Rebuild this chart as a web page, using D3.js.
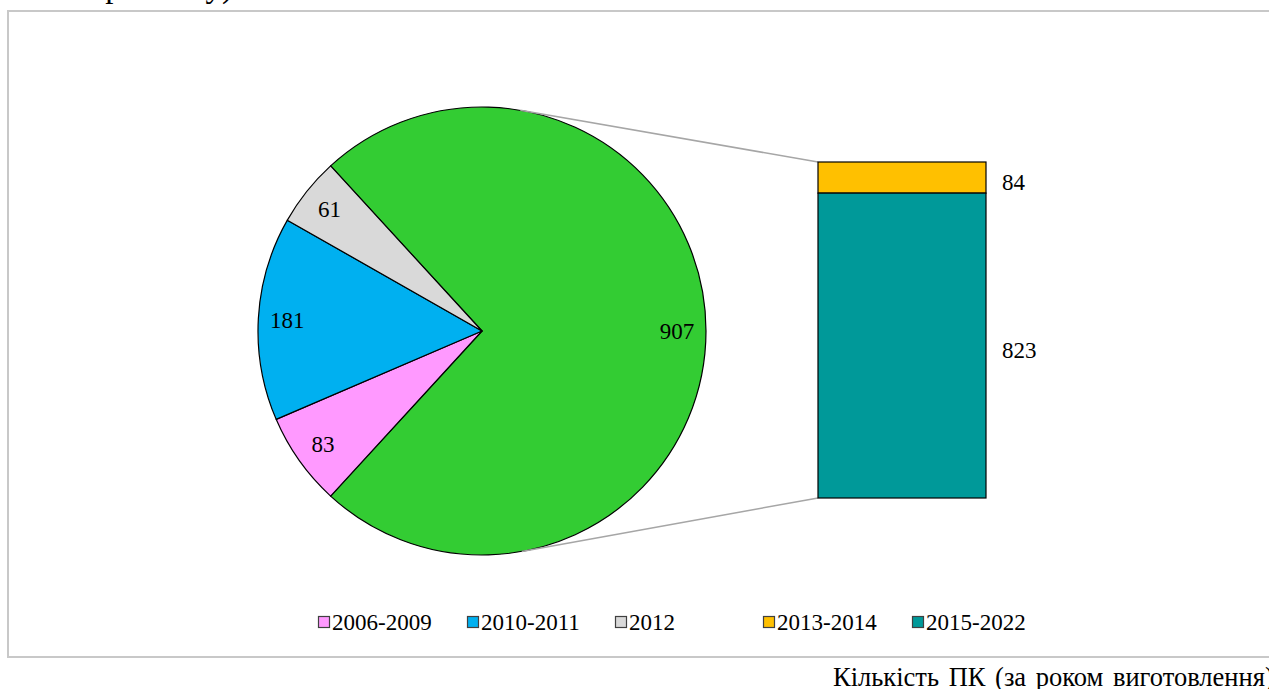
<!DOCTYPE html>
<html>
<head>
<meta charset="utf-8">
<script src="https://cdn.jsdelivr.net/npm/d3@7"></script>
<style>
  html, body { margin: 0; padding: 0; background: #fff; overflow: hidden; }
</style>
</head>
<body>
<svg id="chart" width="1269" height="689"></svg>
<script>
// Number of PCs by year of manufacture
const categories = ["2006-2009", "2010-2011", "2012", "2013-2014", "2015-2022"];
const counts = [83, 181, 61, 84, 823];
const colors = ["#FF99FF", "#00B0F0", "#D9D9D9", "#FFC000", "#009999"];
const otherColor = "#33CC33";
// the last two groups are combined in the pie and broken out in the bar
const pieCount = 3;

const serif = "Liberation Serif";
const svg = d3.select("#chart");

// outer frame and captions
svg.append("rect")
  .attr("x", 8).attr("y", 11).attr("width", 1300).attr("height", 646)
  .attr("fill", "none").attr("stroke", "#C8C8C8").attr("stroke-width", 2);

svg.append("text")
  .attr("x", 233).attr("y", -3)
  .attr("text-anchor", "end")
  .style("font-family", serif)
  .attr("font-size", 33)
  .text("Кількість ПК (за датою останнього ремонту)");

svg.append("text")
  .attr("x", 833).attr("y", 686)
  .style("font-family", serif)
  .style("word-spacing", "3px")
  .attr("font-size", 26.5)
  .text("Кількість ПК (за роком виготовлення)");

// pie data: individual groups + combined "other"
const otherTotal = d3.sum(counts.slice(pieCount));
const pieData = [{ v: otherTotal, color: otherColor, other: true }]
  .concat(counts.slice(0, pieCount).map((v, i) => ({ v, color: colors[i], other: false })));
const total = d3.sum(pieData, d => d.v);

const cx = 482, cy = 331, r = 224;
// centre the combined slice on the right-hand side
const start = Math.PI / 2 - Math.PI * otherTotal / total;
const pie = d3.pie().sort(null).value(d => d.v)
  .startAngle(start).endAngle(start + 2 * Math.PI);
const arcs = pie(pieData);
const arc = d3.arc().innerRadius(0).outerRadius(r);
const labelArc = d3.arc().innerRadius(195).outerRadius(195);

const g = svg.append("g").attr("transform", `translate(${cx},${cy})`);

// bar of the combined slice, stacked with the last group at the bottom
const barX = 818, barW = 168;
const y = d3.scaleLinear().domain([0, otherTotal]).range([498, 162]);
const barParts = counts.slice(pieCount).map((v, i) => ({ v, color: colors[pieCount + i] }));
let acc = 0;
barParts.slice().reverse().forEach(p => { p.y0 = acc; acc += p.v; p.y1 = acc; });

// connector lines tangent to the pie
function tangentPoint(px, py, side) {
  const dx = px - cx, dy = py - cy;
  const d = Math.hypot(dx, dy);
  const base = Math.atan2(dy, dx);
  const off = Math.acos(r / d);
  const a = base + side * off;
  return [cx + r * Math.cos(a), cy + r * Math.sin(a)];
}
const topCorner = [barX, y(otherTotal)];
const botCorner = [barX, y(0)];
const t1 = tangentPoint(topCorner[0], topCorner[1], -1);
const t2 = tangentPoint(botCorner[0], botCorner[1], 1);
svg.append("line")
  .attr("x1", t1[0]).attr("y1", t1[1]).attr("x2", topCorner[0]).attr("y2", topCorner[1])
  .attr("stroke", "#A6A6A6").attr("stroke-width", 1.5);
svg.append("line")
  .attr("x1", t2[0]).attr("y1", t2[1]).attr("x2", botCorner[0]).attr("y2", botCorner[1])
  .attr("stroke", "#A6A6A6").attr("stroke-width", 1.5);

g.selectAll("path.slice").data(arcs).enter().append("path")
  .attr("class", "slice")
  .attr("d", arc)
  .attr("fill", d => d.data.color)
  .attr("stroke", "#000").attr("stroke-width", 1.2).attr("stroke-linejoin", "round");

g.selectAll("text.plabel").data(arcs).enter().append("text")
  .attr("class", "plabel")
  .attr("x", d => labelArc.centroid(d)[0])
  .attr("y", d => labelArc.centroid(d)[1] + 8)
  .attr("text-anchor", "middle")
  .style("font-family", serif)
  .attr("font-size", 23)
  .text(d => d.data.v);

svg.selectAll("rect.bar").data(barParts).enter().append("rect")
  .attr("class", "bar")
  .attr("x", barX).attr("width", barW)
  .attr("y", d => y(d.y1))
  .attr("height", d => y(d.y0) - y(d.y1))
  .attr("fill", d => d.color)
  .attr("stroke", "#000").attr("stroke-width", 1.2);

svg.selectAll("text.blabel").data(barParts).enter().append("text")
  .attr("class", "blabel")
  .attr("x", 1002)
  .attr("y", d => (y(d.y0) + y(d.y1)) / 2 + 12)
  .style("font-family", serif)
  .attr("font-size", 23)
  .text(d => d.v);

// legend
const legendX = [318, 467, 615, 763, 912];
const lg = svg.append("g");
categories.forEach((c, i) => {
  lg.append("rect")
    .attr("x", legendX[i] + 0.5).attr("y", 616.5).attr("width", 11).attr("height", 11)
    .attr("fill", colors[i]).attr("stroke", "#404040").attr("stroke-width", 1.2);
  lg.append("text")
    .attr("x", legendX[i] + 14).attr("y", 630)
    .style("font-family", serif)
    .attr("font-size", 23)
    .text(c);
});
</script>
</body>
</html>
